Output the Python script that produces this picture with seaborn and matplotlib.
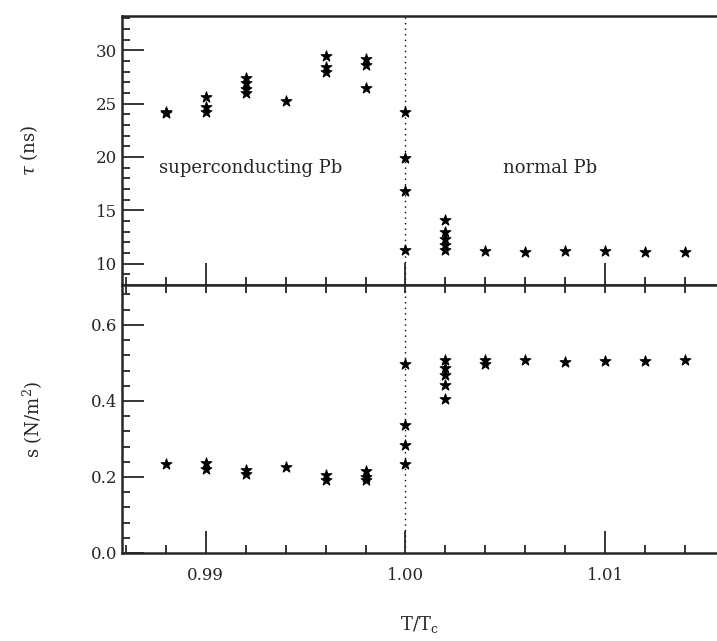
import numpy as np
import pandas as pd
import matplotlib
matplotlib.use("Agg")
import matplotlib.pyplot as plt
from matplotlib.ticker import MultipleLocator, FixedLocator
import seaborn as sns

# lifetime tau (ns) vs reduced temperature
tau_t = [0.988, 0.988,
         0.990, 0.990, 0.990,
         0.992, 0.992, 0.992, 0.992,
         0.994,
         0.996, 0.996, 0.996,
         0.998, 0.998, 0.998,
         1.000, 1.000, 1.000, 1.000,
         1.002, 1.002, 1.002, 1.002, 1.002,
         1.004, 1.006, 1.008, 1.010, 1.012, 1.014, 1.016]
tau_ns = [24.2, 24.1,
          25.6, 24.7, 24.2,
          27.4, 26.9, 26.4, 26.0,
          25.2,
          29.5, 28.4, 28.0,
          29.2, 28.6, 26.5,
          24.2, 19.9, 16.8, 11.3,
          14.1, 13.0, 12.3, 11.7, 11.3,
          11.15, 11.05, 11.2, 11.15, 11.1, 11.1, 11.1]

# parameter s (N/m^2) vs reduced temperature
s_t = [0.988,
       0.990, 0.990,
       0.992, 0.992,
       0.994,
       0.996, 0.996,
       0.998, 0.998, 0.998,
       1.000, 1.000, 1.000, 1.000,
       1.002, 1.002, 1.002, 1.002, 1.002,
       1.004, 1.004, 1.006, 1.008, 1.010, 1.012, 1.014]
s_val = [0.235,
         0.237, 0.222,
         0.217, 0.209,
         0.226,
         0.204, 0.191,
         0.216, 0.200, 0.193,
         0.496, 0.337, 0.283, 0.235,
         0.507, 0.487, 0.467, 0.443, 0.406,
         0.507, 0.498, 0.507, 0.502, 0.505, 0.505, 0.508]

tau_df = pd.DataFrame({"t": tau_t, "tau": tau_ns})
s_df = pd.DataFrame({"t": s_t, "s": s_val})

sns.set_style("ticks")
plt.rcParams["font.family"] = ["DejaVu Serif", "DejaVu Sans"]
plt.rcParams["mathtext.fontset"] = "dejavuserif"

fig = plt.figure(figsize=(7.17, 6.41), dpi=100)
ax1 = fig.add_axes([0.170, 0.5554, 0.830, 0.4196])
ax2 = fig.add_axes([0.170, 0.1373, 0.830, 0.4181])

xlim = (0.9858, 1.0156)
mk = dict(marker="*", s=65, color="black", edgecolor="black", linewidth=0.8)

sns.scatterplot(data=tau_df, x="t", y="tau", ax=ax1, **mk)
sns.scatterplot(data=s_df, x="t", y="s", ax=ax2, **mk)

for ax in (ax1, ax2):
    ax.axvline(1.0, color="black", linestyle=(0, (1, 3)), linewidth=1.0, zorder=0)
    ax.set_xlim(*xlim)
    ax.xaxis.set_major_locator(FixedLocator([0.99, 1.00, 1.01]))
    ax.xaxis.set_minor_locator(MultipleLocator(0.002))
    ax.spines["right"].set_visible(False)
    for side in ("left", "top", "bottom"):
        ax.spines[side].set_linewidth(1.8)
    ax.tick_params(which="major", direction="in", length=16, width=1.3, labelsize=12)
    ax.tick_params(which="minor", direction="in", length=6, width=1.3)
    ax.set_xlabel("")
    ax.set_ylabel("")

ax1.set_ylim(8.0, 33.2)
ax1.yaxis.set_major_locator(MultipleLocator(5))
ax1.yaxis.set_minor_locator(MultipleLocator(1))
ax1.tick_params(axis="x", which="both", labelbottom=False, top=False)
ax1.set_ylabel(r"$\tau$ (ns)", fontsize=13, labelpad=40)
ax1.text(0.98765, 19.0, "superconducting Pb", fontsize=13, va="center")
ax1.text(1.0049, 19.0, "normal Pb", fontsize=13, va="center")

ax2.set_ylim(0.0, 0.705)
ax2.yaxis.set_major_locator(MultipleLocator(0.2))
ax2.yaxis.set_minor_locator(MultipleLocator(0.04))
ax2.yaxis.set_major_formatter(matplotlib.ticker.FormatStrFormatter("%.1f"))
ax2.xaxis.set_major_formatter(matplotlib.ticker.FormatStrFormatter("%.2f"))
ax2.tick_params(axis="x", which="both", top=False)
ax2.tick_params(axis="x", which="major", pad=10)
ax2.set_ylabel(r"s (N/m$^2$)", fontsize=13, labelpad=33)
ax2.set_xlabel(r"T/T$_\mathrm{c}$", fontsize=13, labelpad=22)

# short ticks hanging down from the top edge of the lower panel
top = ax2.secondary_xaxis("top")
top.xaxis.set_major_locator(MultipleLocator(0.002))
top.tick_params(which="major", direction="in", length=6, width=1.3, labeltop=False)
top.spines["top"].set_visible(False)

fig.savefig("out.png", dpi=100)
